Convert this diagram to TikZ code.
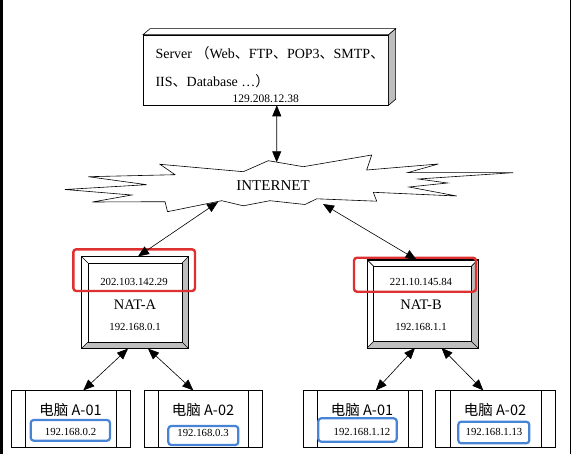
\documentclass[tikz,border=0pt]{standalone}
\usepackage{fontspec}
\setmainfont{Liberation Serif}
\newfontfamily\cjk{Noto Sans CJK SC}
\usetikzlibrary{arrows.meta}
\definecolor{natred}{RGB}{222,48,48}
\definecolor{lanblue}{RGB}{72,132,214}
\definecolor{bevelgray}{RGB}{190,190,190}

\begin{document}
\begin{tikzpicture}[x=1pt,y=-1pt,
  link/.style={line width=0.6, {Triangle[length=11pt,width=9pt]}-{Triangle[length=11pt,width=9pt]}},
  box/.style={draw, line width=0.6, fill=white, inner sep=0},
  iptext/.style={font=\fontsize{10.8}{12}\selectfont},
  pcname/.style={font=\cjk\fontsize{14.5}{16}\selectfont},
  wanframe/.style={draw=natred, line width=2.4, rounded corners=3},
  lanframe/.style={draw=lanblue, line width=2.2, rounded corners=3}]
  \useasboundingbox (0,0) rectangle (572,454);
  \fill[black] (0,0) rectangle (3,454);
  \draw[line width=0.8] (570,0) -- (570,454);

  % server
  \node[box, minimum width=245, minimum height=70] (server) at (265.8,70) {};
  \draw[line width=0.6, fill=white] (server.north west) -- ++(7,-6) -- ([shift={(7,-6)}]server.north east) -- (server.north east) -- cycle;
  \draw[line width=0.6, fill=bevelgray] (server.north east) -- ++(7,-6) -- ([shift={(7,-6)}]server.south east) -- (server.south east) -- cycle;
  \node[anchor=west, font=\fontsize{14}{16}\selectfont] at (152,53) {Server {\cjk （}Web{\cjk 、}FTP{\cjk 、}POP3{\cjk 、}SMTP{\cjk 、}};
  \node[anchor=west, font=\fontsize{14}{16}\selectfont] at (152,81.5) {IIS{\cjk 、}Database …{\cjk ）}};
  \node[font=\fontsize{11.5}{13}\selectfont] at (265.8,98.3) {129.208.12.38};

  % internet
  \draw[line width=0.6, fill=white] (160,164.3) -- (243.3,171.7) -- (268.3,160.7) -- (303.3,166.7)
    -- (371.7,155) -- (366.7,170) -- (438.3,164) -- (407.5,172.7) -- (513,172.7) -- (418.3,179)
    -- (447.5,183) -- (409,187) -- (456.7,196) -- (373.3,192.3) -- (376.7,201.2) -- (316.7,198.8)
    -- (305,204.5) -- (270,200.7) -- (243.3,205.8) -- (221.7,200.7) -- (167.5,211.7) -- (165,201.7)
    -- (92.5,202) -- (131.7,195) -- (65,189.5) -- (146.7,184.7) -- (88.3,176.7) -- (175,174.7) -- cycle;
  \node[font=\fontsize{15}{17}\selectfont] (internet) at (273,186) {INTERNET};
  \coordinate (nettop) at (276.7,162.3);
  \coordinate (neta) at (218,202);
  \coordinate (netb) at (323,204);

  % NAT-A
  \node[box, minimum width=106.6, minimum height=91.6] (nata) at (135,302.5) {};
  \fill[bevelgray] (nata.south west) -- (nata.south east) -- (nata.north east) -- ([shift={(-6.5,6.5)}]nata.north east) -- ([shift={(-6.5,-6.5)}]nata.south east) -- ([shift={(6.5,-6.5)}]nata.south west) -- cycle;
  \draw[line width=0.6] (nata.south west) rectangle (nata.north east);
  \draw[line width=0.6] ([shift={(6.5,6.5)}]nata.north west) rectangle ([shift={(-6.5,-6.5)}]nata.south east);
  \draw[line width=0.6] (nata.north west) -- ++(6.5,6.5) (nata.north east) -- ++(-6.5,6.5) (nata.south west) -- ++(6.5,-6.5) (nata.south east) -- ++(-6.5,-6.5);
  \node[iptext] (nataw) at (134,281.7) {202.103.142.29};
  \node[font=\fontsize{14.5}{16}\selectfont] at (135,305) {NAT-A};
  \node[iptext] (natal) at (135,327.3) {192.168.0.1};
  \draw[wanframe] (73.3,249.3) rectangle (195,291);

  % NAT-B
  \node[box, minimum width=110.4, minimum height=87.7] (natb) at (422.5,303.8) {};
  \fill[bevelgray] (natb.south west) -- (natb.south east) -- (natb.north east) -- ([shift={(-6.5,6.5)}]natb.north east) -- ([shift={(-6.5,-6.5)}]natb.south east) -- ([shift={(6.5,-6.5)}]natb.south west) -- cycle;
  \draw[line width=0.6] (natb.south west) rectangle (natb.north east);
  \draw[line width=0.6] ([shift={(6.5,6.5)}]natb.north west) rectangle ([shift={(-6.5,-6.5)}]natb.south east);
  \draw[line width=0.6] (natb.north west) -- ++(6.5,6.5) (natb.north east) -- ++(-6.5,6.5) (natb.south west) -- ++(6.5,-6.5) (natb.south east) -- ++(-6.5,-6.5);
  \node[iptext] (natbw) at (421,282.3) {221.10.145.84};
  \node[font=\fontsize{14.5}{16}\selectfont] at (421,305) {NAT-B};
  \node[iptext] (natbl) at (421,326.7) {192.168.1.1};
  \draw[wanframe] (354,257.7) rectangle (476,291.7);

  % computers
  \node[box, minimum width=119.7, minimum height=56.6] (pca1) at (70.8,419) {};
  \node[box, minimum width=118.7, minimum height=56.6] (pca2) at (203.3,419) {};
  \node[box, minimum width=119, minimum height=56.6] (pcb1) at (362.8,419) {};
  \node[box, minimum width=120, minimum height=56.6] (pcb2) at (495.7,419) {};
  \draw[line width=0.6] ([xshift=14.5]pca1.north west) -- ([xshift=14.5]pca1.south west) ([xshift=-14.5]pca1.north east) -- ([xshift=-14.5]pca1.south east);
  \draw[line width=0.6] ([xshift=14.5]pca2.north west) -- ([xshift=14.5]pca2.south west) ([xshift=-14.5]pca2.north east) -- ([xshift=-14.5]pca2.south east);
  \draw[line width=0.6] ([xshift=14.5]pcb1.north west) -- ([xshift=14.5]pcb1.south west) ([xshift=-14.5]pcb1.north east) -- ([xshift=-14.5]pcb1.south east);
  \draw[line width=0.6] ([xshift=14.5]pcb2.north west) -- ([xshift=14.5]pcb2.south west) ([xshift=-14.5]pcb2.north east) -- ([xshift=-14.5]pcb2.south east);

  \node[pcname] at (70.5,410.5) {电脑 A-01};
  \node[pcname] at (203,410.5) {电脑 A-02};
  \node[pcname] at (362,410.5) {电脑 A-01};
  \node[pcname] at (495,410.5) {电脑 A-02};
  \node[iptext] at (70.5,431.7) {192.168.0.2};
  \node[iptext] at (203,433) {192.168.0.3};
  \node[iptext] at (362,431.7) {192.168.1.12};
  \node[iptext] at (494,432.3) {192.168.1.13};
  \draw[lanframe] (30.7,420) rectangle (110,440.7);
  \draw[lanframe] (168.3,426) rectangle (238.3,445);
  \draw[lanframe] (318.3,418.3) rectangle (396.7,441.7);
  \draw[lanframe] (458.3,421.7) rectangle (529.3,443.3);

  % links
  \draw[link] ([xshift=11]server.south) -- (nettop);
  \draw[link] (neta) -- ([xshift=3]nata.north);
  \draw[link] (netb) -- ([xshift=-6]natb.north);
  \draw[link] ([xshift=-7]nata.south) -- ([xshift=12.5]pca1.north);
  \draw[link] ([xshift=13]nata.south) -- ([xshift=-10]pca2.north);
  \draw[link] ([xshift=-7.5]natb.south) -- ([xshift=13]pcb1.north);
  \draw[link] ([xshift=19]natb.south) -- ([xshift=-12.4]pcb2.north);
\end{tikzpicture}
\end{document}
